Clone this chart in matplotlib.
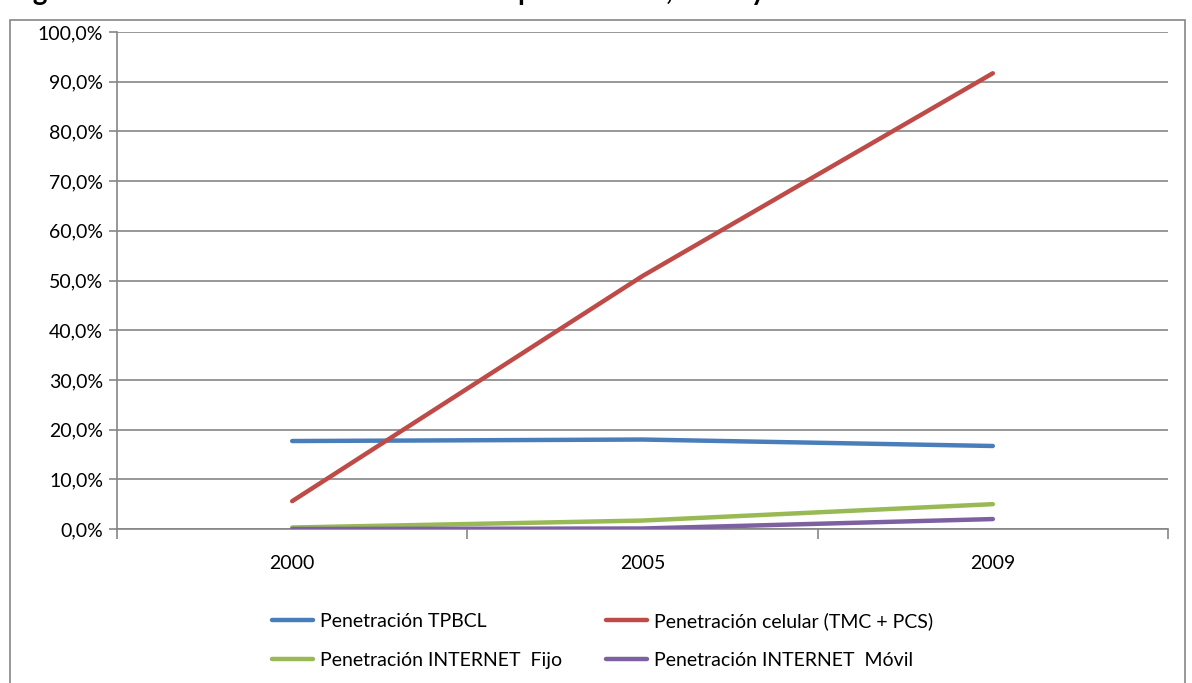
import matplotlib.pyplot as plt
from matplotlib.patches import Rectangle
from matplotlib.ticker import FuncFormatter

plt.rcParams['font.family'] = ['Lato', 'DejaVu Sans']

years = ['2000', '2005', '2009']
tpbcl = [0.177, 0.180, 0.167]
celular = [0.056, 0.509, 0.917]
inet_fijo = [0.003, 0.017, 0.050]
inet_movil = [0.000, 0.001, 0.020]

labels = ['Penetración TPBCL', 'Penetración celular (TMC + PCS)',
          'Penetración INTERNET  Fijo', 'Penetración INTERNET  Móvil']
colors = ['#4A7EBB', '#BE4B48', '#98B954', '#7D60A0']

fig = plt.figure(figsize=(11.92, 6.83), dpi=100)

# outer chart border (cut at the bottom like the original)
fig.patches.append(Rectangle((10 / 1192, -0.05), 1175 / 1192, 1.05 - 20 / 683,
                             transform=fig.transFigure, fill=False,
                             edgecolor='#868686', lw=1.2))

# title sits above the picture, only the descenders show
fig.text(10 / 1192, 1.0, 'Figura 5: Evolución de los indicadores de penetración, 2000 y 2009',
         fontsize=20, fontweight='bold', va='baseline', ha='left')

ax = fig.add_axes([117 / 1192, 1 - 529 / 683, 1051 / 1192, 497 / 683])

x = range(len(years))
series = [tpbcl, celular, inet_fijo, inet_movil]
lines = []
for vals, lab, col in zip(series, labels, colors):
    ln, = ax.plot(x, vals, color=col, lw=3.2, solid_capstyle='round', label=lab, zorder=3)
    lines.append(ln)

ax.set_xlim(-0.5, 2.5)
ax.set_ylim(0, 1.0)
ax.set_yticks([i / 10 for i in range(11)])
ax.yaxis.set_major_formatter(FuncFormatter(lambda v, p: f'{v * 100:.1f}%'.replace('.', ',')))
ax.grid(axis='y', color='#868686', lw=1.2)
ax.set_axisbelow(True)

ax.set_xticks(list(x))
ax.set_xticklabels(years)
ax.set_xticks([-0.5, 0.5, 1.5, 2.5], minor=True)
ax.tick_params(axis='x', which='major', length=0, pad=19, labelsize=14)
ax.tick_params(axis='x', which='minor', length=7, color='#868686', width=1.2)
ax.tick_params(axis='y', length=6, color='#868686', width=1.2, labelsize=14, pad=4)

for s in ['top', 'right']:
    ax.spines[s].set_visible(False)
for s in ['left', 'bottom']:
    ax.spines[s].set_color('#868686')
    ax.spines[s].set_linewidth(1.2)

# matplotlib fills legend columns first, so order handles for row-wise reading
order = [0, 2, 1, 3]
fig.legend(handles=[lines[i] for i in order], labels=[labels[i] for i in order],
           ncol=2, loc='upper left', bbox_to_anchor=(272 / 1192, 1 - 612 / 683),
           frameon=False, fontsize=14, handlelength=2.1, handletextpad=0.35,
           columnspacing=2.27, labelspacing=1.12, borderpad=0, borderaxespad=0)

fig.savefig('out.png', dpi=100)
